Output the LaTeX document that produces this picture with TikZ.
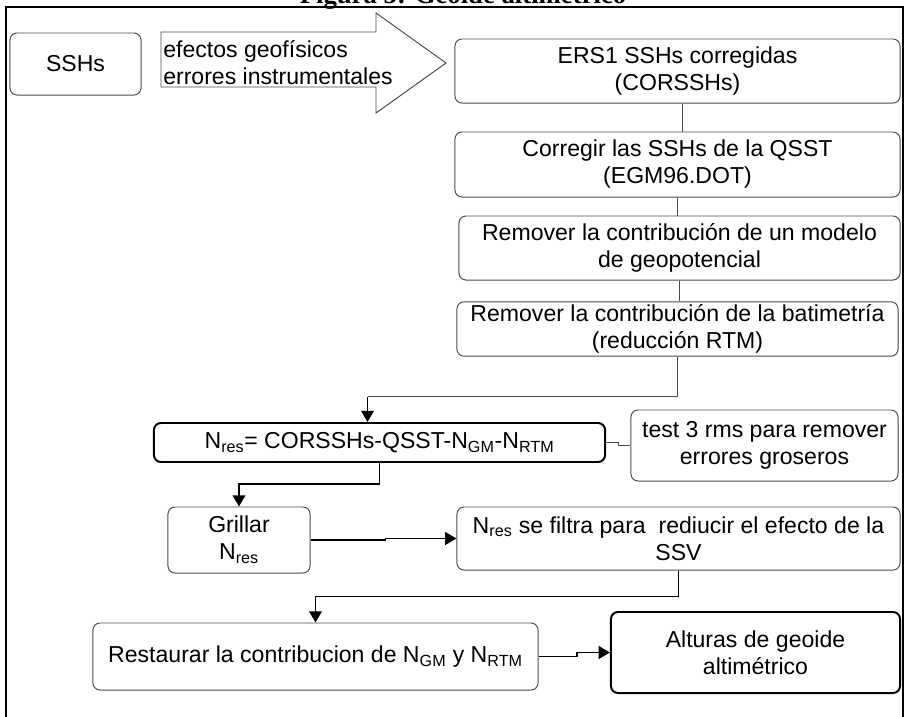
\documentclass[tikz,border=0pt]{standalone}
\usepackage{fontspec}
\setmainfont{Liberation Sans}
\newfontfamily\titlefont{Liberation Serif}
\usetikzlibrary{arrows.meta,calc}

\tikzset{
  caja/.style={draw=black!70, line width=0.7pt, rounded corners=5pt, align=center,
    inner sep=2pt, font=\fontsize{16.4}{19.2}\selectfont},
  cajanegra/.style={caja, draw=black, line width=1.4pt},
  linea/.style={draw=black!70, line width=0.7pt},
  flecha/.style={draw=black, line width=1.4pt, -{Triangle[length=8pt,width=9pt]}},
}

\begin{document}
\begin{tikzpicture}[x=0.025cm, y=-0.025cm]
\useasboundingbox (0,0) rectangle (908,717);

% title, cut by the top of the page
\node[anchor=base, inner sep=0pt, font=\titlefont\bfseries\fontsize{19}{22}\selectfont] (titulo) at (463,3) {Figura 5: Geoide altimétrico};

% frame
\draw[line width=1.8pt] (6,725) -- (6,7) -- (903,7) -- (903,725);

\node[caja, minimum width=3.275cm, minimum height=1.55cm] (ssh) at (75.5,64) {SSHs};

% big arrow
\draw[linea] (161,32) -- (376,32) -- (376,13) -- (446,63) -- (376,113) -- (376,87) -- (161,87) -- cycle;
\node[anchor=west, align=left, inner sep=0pt, font=\fontsize{16.4}{19.2}\selectfont] (efectos) at (163,63) {efectos geofísicos\\errores instrumentales};

\node[caja, minimum width=11.125cm, minimum height=1.6cm] (ers) at (677.5,71) {ERS1 SSHs corregidas\\(CORSSHs)};
\node[caja, minimum width=11.125cm, minimum height=1.625cm] (qsst) at (677.5,164.5) {Corregir las SSHs de la QSST\\(EGM96.DOT)};
\node[caja, minimum width=11.025cm, minimum height=1.6cm] (geop) at (679.5,248) {Remover la contribución de un modelo\\de geopotencial};
\node[caja, minimum width=11.025cm, minimum height=1.35cm] (bati) at (677.5,329) {Remover la contribución de la batimetría\\(reducción RTM)};

\node[cajanegra, minimum width=11.275cm, minimum height=0.975cm] (nres) at (379.5,442.5) {N\textsubscript{res}= CORSSHs-QSST-N\textsubscript{GM}-N\textsubscript{RTM}};
\node[caja, minimum width=6.675cm, minimum height=1.775cm] (test) at (764.5,445.5) {test 3 rms para remover\\errores groseros};

\node[caja, minimum width=3.55cm, minimum height=1.65cm] (grid) at (239,540) {Grillar\\N\textsubscript{res}};
\node[caja, minimum width=11.075cm, minimum height=1.575cm] (filt) at (678.5,538.5) {N\textsubscript{res} se filtra para \ rediucir el efecto de la\\SSV};

\node[caja, minimum width=11.125cm, minimum height=1.675cm] (rest) at (315.5,656.5) {Restaurar la contribucion de N\textsubscript{GM} y N\textsubscript{RTM}};
\node[cajanegra, minimum width=7.225cm, minimum height=2.025cm] (alt) at (755.5,652.5) {Alturas de geoide\\altimétrico};

% connectors
\draw[linea] ($(ers.south)+(5,0)$) -- ($(qsst.north)+(5,0)$);
\draw[linea] (qsst.south) -- (qsst.south |- geop.north);
\draw[linea] (geop.south) -- (geop.south |- bati.north);

\coordinate (nresin) at ($(nres.north)+(-12,0)$);
\draw[linea] (bati.south) -- ++(0,40) coordinate (esq1) -- (esq1 -| nresin) coordinate (esq2);
\draw[flecha] (esq2) -- (nresin);

\draw[linea] (nres.east) -- ++(12,0) |- (test.west);
\draw[flecha] (nres.south) -- ++(0,21) -| (grid.north);
\draw[flecha] (grid.east) -- ++(75,0) |- (filt.west);
\draw[flecha] (filt.south) -- ++(0,26) -| (rest.north);
\draw[flecha] (rest.east) -- ++(38,0) |- (alt.west);

\end{tikzpicture}
\end{document}
